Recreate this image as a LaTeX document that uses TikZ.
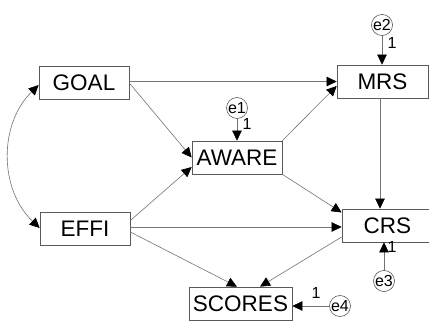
\documentclass[tikz,border=0pt]{standalone}
\usepackage{fontspec}
\setmainfont{Liberation Sans}
\usetikzlibrary{arrows.meta}
\begin{document}
\begin{tikzpicture}[x=1pt,y=-1pt,
  var/.style={draw=black!65,line width=0.7pt,rectangle,minimum height=33pt,inner sep=0pt,font=\fontsize{22.5}{23}\selectfont},
  err/.style={draw=black!65,line width=0.6pt,circle,minimum size=20pt,inner sep=0pt,font=\fontsize{16}{16}\selectfont},
  lbl/.style={font=\fontsize{16}{16}\selectfont,inner sep=0pt},
  tip/.style={Triangle[length=10pt,width=9.5pt,black]},
  path/.style={draw=black!55,line width=0.6pt,-{Triangle[length=10pt,width=9.5pt,black]}},
  cov/.style={draw=black!55,line width=0.6pt,{Triangle[length=10pt,width=9.5pt,black]}-{Triangle[length=10pt,width=9.5pt,black]}}]
\useasboundingbox (0,0) rectangle (429,321);
\node[var,minimum width=90pt] (goal) at (84,83) {GOAL};
\node[var,minimum width=90pt] (effi) at (85,228.5) {EFFI};
\node[var,minimum width=90pt] (aware) at (237,157.5) {AWARE};
\node[var,minimum width=91pt] (mrs) at (382.5,81.5) {MRS};
\node[var,minimum width=91pt] (crs) at (387.5,225.5) {CRS};
\node[var,minimum width=103pt] (scores) at (240.5,303.5) {SCORES};
\node[err] (e1) at (237,108) {e1};
\node[err] (e2) at (382,25) {e2};
\node[err] (e3) at (384,281) {e3};
\node[err] (e4) at (340,306) {e4};
\node[lbl] (l1) at (247,124) {1};
\node[lbl] (l2) at (392,43) {1};
\node[lbl] (l3) at (392,247) {1};
\node[lbl] (l4) at (316,293) {1};
% paths
\draw[path] (goal.east |- mrs.west) -- (mrs.west);
\draw[path] (goal.east) -- (aware.west);
\draw[path] ([yshift=8pt]effi.east) -- ([yshift=-9.5pt]aware.west);
\draw[path] (aware.north east) -- ([yshift=-4.5pt]mrs.west);
\draw[path] (aware.south east) -- ([yshift=13pt]crs.west);
\draw[path] ([xshift=-2.5pt]mrs.south) -- ([xshift=-7.5pt]crs.north);
\draw[path] ([yshift=1.5pt]effi.east) -- ([yshift=1.5pt]effi.east -| crs.west);
\draw[path] ([yshift=-3.5pt]effi.east) -- ([xshift=-3.5pt]scores.north);
\draw[path] ([yshift=-11.5pt]crs.west) -- ([xshift=19.5pt]scores.north);
\draw[cov] ([yshift=-2pt]goal.west) to[bend right=46] ([yshift=0.5pt]effi.west);
% errors
\draw[path] (e1) -- (aware.north);
\draw[path] (e2) -- ([xshift=-0.5pt]mrs.north);
\draw[path] (e3) -- ([xshift=-3.5pt]crs.south);
\draw[path] (e4.west) -- (e4.west -| scores.east);
\end{tikzpicture}
\end{document}
